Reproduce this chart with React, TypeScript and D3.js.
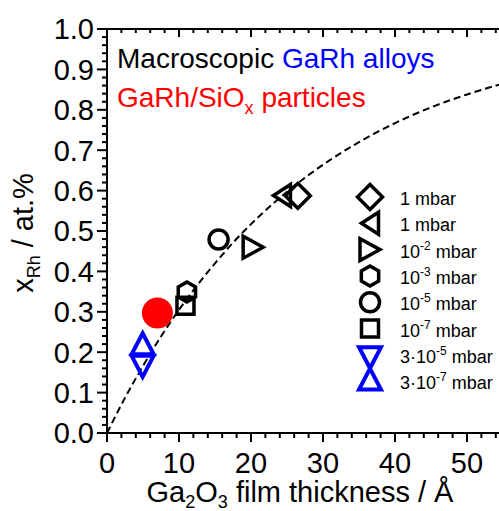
import React from 'react';
import * as d3 from 'd3';

// ---------- data ----------
const seriesKeys = ['diamond', 'triangleLeft', 'triangleRight', 'hexagon', 'circle', 'square', 'triangleDown', 'triangleUp'];
const seriesX = [26.5, 24.3, 20.3, 11.1, 15.5, 10.9, 4.95, 4.95];
const seriesY = [0.587, 0.588, 0.46, 0.349, 0.479, 0.315, 0.165, 0.221];
const seriesGroup = ['macro', 'macro', 'macro', 'macro', 'macro', 'macro', 'alloy', 'alloy'];
const labelBase = ['1', '1', '10', '10', '10', '10', '3·10', '3·10'];
const labelExp = ['', '', '-2', '-3', '-5', '-7', '-5', '-7'];

const particleX = [7.0];
const particleY = [0.297];

const curveX = [0, 2.5, 5, 7.5, 10, 12.5, 15, 17.5, 20, 25, 30, 35, 40, 45, 50, 55];
const curveY = [0, 0.087, 0.166, 0.239, 0.305, 0.365, 0.42, 0.471, 0.517, 0.597, 0.664, 0.72, 0.767, 0.806, 0.838, 0.865];

const xMajorTicks = [0, 10, 20, 30, 40, 50];
const xTickLabels = ['0', '10', '20', '30', '40', '50'];
const yMajorTicks = [0, 0.1, 0.2, 0.3, 0.4, 0.5, 0.6, 0.7, 0.8, 0.9, 1.0];
const yTickLabels = ['0.0', '0.1', '0.2', '0.3', '0.4', '0.5', '0.6', '0.7', '0.8', '0.9', '1.0'];

// ---------- layout ----------
const W = 499;
const H = 511;
const left = 107;
const right = 503;
const top = 29;
const bottom = 433;
const FONT = '"Liberation Sans", Arial, Helvetica, sans-serif';
const BLUE = '#0000ff';
const RED = '#ff0000';

const x = d3.scaleLinear().domain([0, 55]).range([left, right]);
const y = d3.scaleLinear().domain([0, 1]).range([bottom, top]);

const xMinor = d3.range(0, 55.001, 2).filter((v) => Math.abs(v % 10) > 1e-6);
const yMinor = d3.range(0, 1.0001, 0.02).filter((v) => Math.abs(Math.round(v * 10) - v * 10) > 1e-6);

const poly = d3.line().curve(d3.curveLinearClosed);

function shapePath(kind: string): string {
  switch (kind) {
    case 'diamond':
      return poly([[0, -12.5], [12.5, 0], [0, 12.5], [-12.5, 0]]) as string;
    case 'triangleLeft':
      return poly([[-8.5, 0], [8.5, -11], [8.5, 11]]) as string;
    case 'triangleRight':
      return poly([[10, 0], [-10, -11], [-10, 11]]) as string;
    case 'triangleUp':
      return poly([[0, -10.5], [11, 10.5], [-11, 10.5]]) as string;
    case 'triangleDown':
      return poly([[0, 10.5], [11, -10.5], [-11, -10.5]]) as string;
    case 'hexagon': {
      const r = 10;
      const pts = d3.range(6).map((i) => {
        const a = (-90 + i * 60) * Math.PI / 180;
        return [r * Math.cos(a), r * Math.sin(a)] as [number, number];
      });
      return poly(pts) as string;
    }
    case 'square':
      return poly([[-8.5, -8.5], [8.5, -8.5], [8.5, 8.5], [-8.5, 8.5]]) as string;
    case 'circle':
      return d3.arc()({ innerRadius: 0, outerRadius: 9.5, startAngle: 0, endAngle: 2 * Math.PI }) as string;
    default:
      return '';
  }
}

function Marker({ kind, cx, cy, color }: { kind: string; cx: number; cy: number; color: string }) {
  return (
    <path
      d={shapePath(kind)}
      transform={`translate(${cx},${cy})`}
      fill="none"
      stroke={color}
      strokeWidth={color === BLUE ? 4 : 3.5}
      strokeLinejoin="miter"
    />
  );
}

export default function App() {
  const curveLine = d3
    .line<number>()
    .x((_, i) => x(curveX[i]))
    .y((d) => y(d))
    .curve(d3.curveMonotoneX);

  const legendX = 370;
  const legendTextX = 400;
  const legendBase0 = 205;
  const legendRow = 26.3;
  const symOffset = (k: string) => (k === 'triangleDown' ? -5 : k === 'triangleUp' ? -10 : -8);

  return (
    <svg width={W} height={H} style={{ position: 'absolute', left: 0, top: 0 }} fontFamily={FONT}>
      <defs>
        <clipPath id="plotClip">
          <rect x={left} y={top} width={right - left} height={bottom - top} />
        </clipPath>
      </defs>
      <rect x={0} y={0} width={W} height={H} fill="#fff" />

      {/* dashed curve */}
      <path
        d={curveLine(curveY) as string}
        fill="none"
        stroke="#000"
        strokeWidth={2}
        strokeDasharray="7,4"
        clipPath="url(#plotClip)"
      />

      {/* axes lines */}
      <line x1={left} x2={left} y1={top} y2={bottom} stroke="#000" strokeWidth={2} />
      <line x1={left - 1} x2={right} y1={bottom} y2={bottom} stroke="#000" strokeWidth={2} />
      <line x1={left - 1} x2={right} y1={top} y2={top} stroke="#000" strokeWidth={2} />

      {/* y ticks */}
      {yMajorTicks.map((v, i) => (
        <g key={'ym' + i}>
          <line x1={left - 10} x2={left} y1={y(v)} y2={y(v)} stroke="#000" strokeWidth={2} />
          <text x={left - 13} y={y(v)} dy="0.36em" textAnchor="end" fontSize={29}>
            {yTickLabels[i]}
          </text>
        </g>
      ))}
      {yMinor.map((v, i) => (
        <line key={'yn' + i} x1={left - 5} x2={left} y1={y(v)} y2={y(v)} stroke="#000" strokeWidth={2} />
      ))}

      {/* x ticks bottom */}
      {xMajorTicks.map((v, i) => (
        <g key={'xm' + i}>
          <line x1={x(v)} x2={x(v)} y1={bottom} y2={bottom + 9} stroke="#000" strokeWidth={2} />
          <text x={x(v)} y={473} textAnchor="middle" fontSize={29}>
            {xTickLabels[i]}
          </text>
          <line x1={x(v)} x2={x(v)} y1={top} y2={top + 8} stroke="#000" strokeWidth={2} />
        </g>
      ))}
      {xMinor.map((v, i) => (
        <g key={'xn' + i}>
          <line x1={x(v)} x2={x(v)} y1={bottom} y2={bottom + 5} stroke="#000" strokeWidth={2} />
          <line x1={x(v)} x2={x(v)} y1={top} y2={top + 4} stroke="#000" strokeWidth={2} />
        </g>
      ))}

      {/* axis titles */}
      <text transform="translate(33,233) rotate(-90)" textAnchor="middle" fontSize={29}>
        x<tspan fontSize={18} dy={7}>Rh</tspan>
        <tspan dy={-7}> / at.%</tspan>
      </text>
      <text x={300} y={502} textAnchor="middle" fontSize={29}>
        Ga<tspan fontSize={18} dy={6}>2</tspan>
        <tspan dy={-6}>O</tspan>
        <tspan fontSize={18} dy={6}>3</tspan>
        <tspan dy={-6}> film thickness / Å</tspan>
      </text>

      {/* annotations */}
      <text x={117} y={68} fontSize={28}>
        <tspan fill="#000">Macroscopic </tspan>
        <tspan fill={BLUE}>GaRh alloys</tspan>
      </text>
      <text x={117} y={107} fontSize={28} fill={RED}>
        GaRh/SiO<tspan fontSize={18} dy={7}>x</tspan>
        <tspan dy={-7}> particles</tspan>
      </text>

      {/* data markers */}
      {seriesKeys.map((k, i) => (
        <Marker key={'d' + i} kind={k} cx={x(seriesX[i])} cy={y(seriesY[i])} color={seriesGroup[i] === 'alloy' ? BLUE : '#000'} />
      ))}
      {particleX.map((v, i) => (
        <circle key={'p' + i} cx={x(v)} cy={y(particleY[i])} r={15.5} fill={RED} />
      ))}

      {/* legend */}
      {seriesKeys.map((k, i) => {
        const base = legendBase0 + i * legendRow;
        return (
          <g key={'lg' + i}>
            <Marker kind={k} cx={legendX} cy={base + symOffset(k)} color={seriesGroup[i] === 'alloy' ? BLUE : '#000'} />
            <text x={legendTextX} y={base} fontSize={18}>
              {labelBase[i]}
              {labelExp[i] ? (
                <>
                  <tspan fontSize={12} dy={-8}>{labelExp[i]}</tspan>
                  <tspan dy={8}> mbar</tspan>
                </>
              ) : (
                <tspan> mbar</tspan>
              )}
            </text>
          </g>
        );
      })}
    </svg>
  );
}
